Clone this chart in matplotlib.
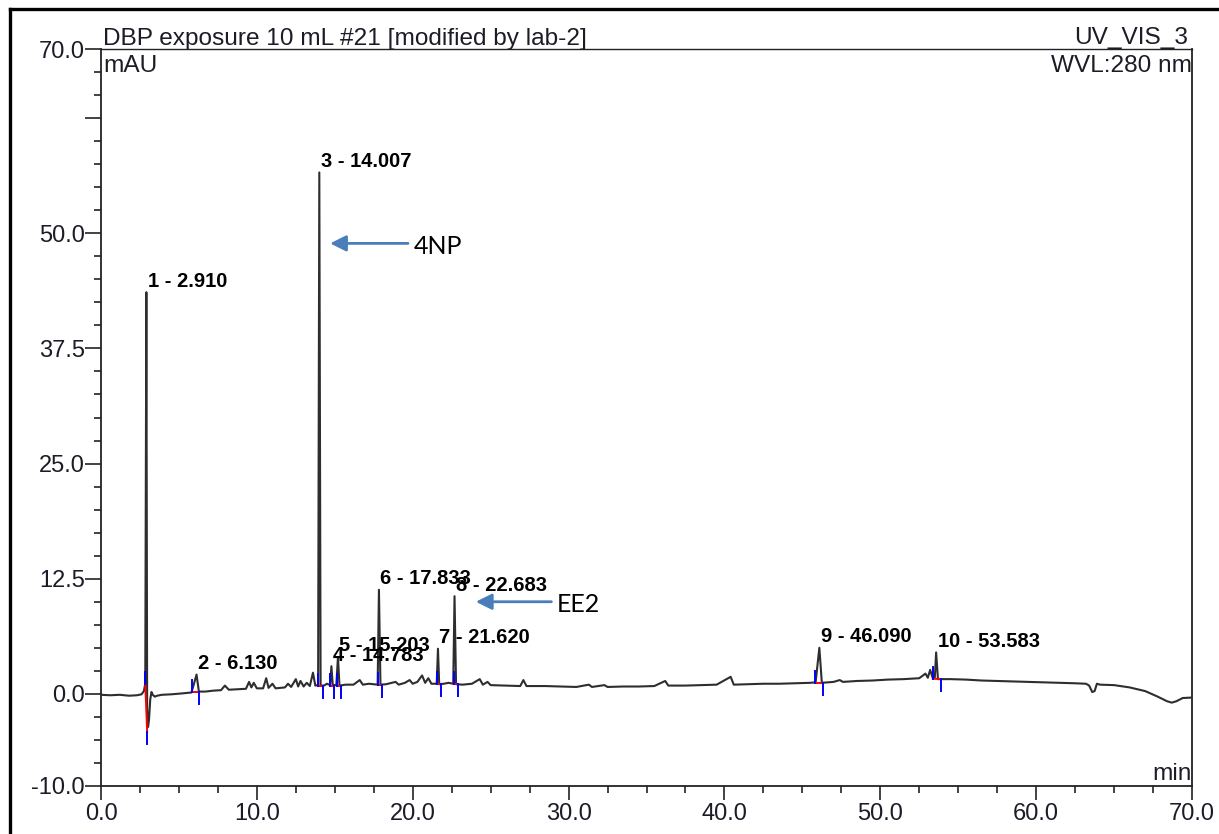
import matplotlib
matplotlib.use("Agg")
import matplotlib.pyplot as plt
import numpy as np
from matplotlib.lines import Line2D
from matplotlib.ticker import MultipleLocator, FixedLocator

plt.rcParams['font.family'] = ['Liberation Sans', 'DejaVu Sans']

# detector trace (min, mAU) without the labelled peak apexes
trace_t = [0.0, 0.6, 1.2, 1.8, 2.3, 2.6, 2.75, 2.84,
           2.96, 3.02, 3.08, 3.16, 3.24, 3.32, 3.45, 3.6, 3.9, 4.5, 5.2, 5.8, 5.95,
           6.28, 6.7, 7.2, 7.7, 7.95, 8.2, 8.8, 9.3, 9.5, 9.65, 9.8, 10.0, 10.4, 10.6,
           10.75, 11.0, 11.2, 11.8, 12.0, 12.2, 12.5, 12.65, 12.8, 13.0, 13.2, 13.4,
           13.6, 13.75, 13.93,
           14.09, 14.3, 14.5, 14.7,
           14.87, 15.1,
           15.3, 15.7, 16.2, 16.6, 16.8, 17.2, 17.75,
           17.93, 18.3, 18.9, 19.1, 19.5, 19.8, 20.0, 20.3, 20.6, 20.8, 21.0, 21.2, 21.54,
           21.7, 22.0, 22.3, 22.6,
           22.78, 23.2, 23.8, 24.3, 24.5, 24.8, 25.0, 26.0, 26.9, 27.1, 27.3, 28.5,
           29.5, 30.5, 31.3, 31.5, 32.3, 32.5, 33.5, 34.5, 35.5, 36.2, 36.4, 37.5,
           38.5, 39.5, 40.4, 40.6, 41.5, 42.5, 43.5, 44.5, 45.5, 45.85,
           46.25, 47.0, 47.4, 47.6, 48.5, 49.5, 50.5, 51.5, 52.5, 52.9, 53.05, 53.2,
           53.35, 53.5,
           53.7, 54.5, 55.5, 56.5, 57.5, 58.5, 59.5, 60.5, 61.5, 62.5, 63.2, 63.4,
           63.6, 63.75, 63.9, 64.1, 65.0, 66.0, 67.0, 67.8, 68.4, 68.7, 69.0, 69.4, 70.0]
trace_y = [-0.10, -0.15, -0.10, -0.20, -0.15, -0.05, 0.3, 1.1,
           -1.5, -3.6, -2.8, -0.6, 0.2, -0.1, -0.3, -0.2, -0.1, -0.05, 0.05, 0.15, 1.0,
           0.25, 0.25, 0.35, 0.4, 0.9, 0.45, 0.5, 0.55, 1.3, 0.7, 1.2, 0.6, 0.6, 1.7,
           0.65, 1.1, 0.6, 0.7, 1.1, 0.75, 1.6, 0.8, 1.4, 0.8, 1.2, 0.85,
           2.3, 0.9, 0.95,
           0.9, 0.9, 1.1, 0.95,
           0.95, 0.95,
           0.9, 1.0, 1.0, 1.5, 1.0, 1.1, 1.0,
           1.0, 1.05, 1.3, 1.0, 1.2, 1.5, 1.1, 1.3, 2.0, 1.2, 1.7, 1.1, 1.1,
           1.05, 1.1, 1.2, 1.1,
           1.05, 1.0, 1.1, 1.6, 1.0, 1.3, 0.95, 0.9, 0.85, 1.5, 0.85, 0.85,
           0.8, 0.75, 1.0, 0.75, 0.95, 0.75, 0.8, 0.8, 0.85, 1.4, 0.9, 0.9,
           0.95, 1.0, 1.85, 1.0, 1.05, 1.1, 1.1, 1.15, 1.2, 1.25,
           1.2, 1.3, 1.5, 1.3, 1.4, 1.45, 1.55, 1.6, 1.7, 2.2, 1.75, 2.6,
           1.8, 1.8,
           1.6, 1.6, 1.55, 1.45, 1.4, 1.35, 1.3, 1.25, 1.2, 1.15, 1.1, 0.9,
           0.2, 0.3, 1.1, 1.0, 0.95, 0.7, 0.3, -0.3, -0.8, -0.95, -0.8, -0.45, -0.4]

# labelled peaks
peak_ids = [1, 2, 3, 4, 5, 6, 7, 8, 9, 10]
peak_times = [2.910, 6.130, 14.007, 14.783, 15.203, 17.833, 21.620, 22.683, 46.090, 53.583]
peak_heights = [43.6, 2.1, 56.6, 3.0, 4.0, 11.3, 4.9, 10.6, 5.0, 4.5]

# integration limits and baseline levels
int_start = [2.84, 5.84, 13.90, 14.72, 15.12, 17.76, 21.55, 22.62, 45.82, 53.37]
int_end = [2.96, 6.29, 14.25, 14.95, 15.40, 18.02, 21.80, 22.90, 46.30, 53.90]
base_start = [1.1, 0.2, 0.9, 0.9, 0.9, 1.0, 1.1, 1.1, 1.2, 1.65]
base_end = [-4.1, 0.2, 0.9, 0.9, 0.9, 1.0, 1.05, 1.05, 1.2, 1.6]

# compound callouts: (name, arrow tip, arrow tail)
callouts = [("4NP", (14.7, 48.9), (19.7, 48.9)),
            ("EE2", (24.05, 10.0), (28.9, 10.0))]

t = np.array(trace_t + peak_times)
y = np.array(trace_y + peak_heights)
order = np.argsort(t)
t, y = t[order], y[order]

W, H = 1219, 834
fig = plt.figure(figsize=(W / 100, H / 100), dpi=100)
ax = fig.add_axes([101 / W, 1 - 786 / H, (1192 - 101) / W, (786 - 49) / H])

txt_color = '#1c1c28'
ax.plot(t, y, color='#2e2e2e', lw=1.5, zorder=3)

tick_len = 1.3
for s, e, bs, be in zip(int_start, int_end, base_start, base_end):
    ax.plot([s, e], [bs, be], color='red', lw=1.4, zorder=4)
    ax.plot([s, s], [bs, bs + tick_len], color='blue', lw=1.4, zorder=5)
    ax.plot([e, e], [be, be - tick_len], color='blue', lw=1.4, zorder=5)

for pid, pt, ph in zip(peak_ids, peak_times, peak_heights):
    ax.annotate(f"{pid} - {pt:.3f}", xy=(pt, ph), xytext=(1, 4),
                textcoords='offset points', ha='left', va='baseline',
                fontsize=14.5, fontweight='bold', color='black', zorder=6)

for name, tip, tail in callouts:
    ax.annotate('', xy=tip, xytext=tail,
                arrowprops=dict(arrowstyle='-|>', color='#4a7ebb', lw=2,
                                mutation_scale=24, shrinkA=0, shrinkB=0))
    ax.annotate(name, xy=tail, xytext=(4, -2), textcoords='offset points',
                ha='left', va='center', fontsize=18, family=['Lato', 'DejaVu Sans'],
                color='black')

ax.set_xlim(0, 70)
ax.set_ylim(-10, 70)

ax.xaxis.set_major_locator(MultipleLocator(10))
ax.xaxis.set_minor_locator(MultipleLocator(2.5))
ax.set_xticklabels([f"{v:.1f}" for v in ax.get_xticks()])

y_major = [-10, 0, 12.5, 25, 37.5, 50, 62.5, 70]
ax.yaxis.set_major_locator(FixedLocator(y_major))
ax.set_yticklabels(['' if v == 62.5 else f"{v:.1f}" for v in y_major])
ax.yaxis.set_minor_locator(MultipleLocator(2.5))

ax.tick_params(axis='both', which='both', direction='out', colors='#222222',
               labelcolor=txt_color, labelsize=17, width=1.2)
ax.tick_params(axis='x', which='major', length=10, pad=2)
ax.tick_params(axis='x', which='minor', length=5)
ax.tick_params(axis='y', which='major', length=11.5, pad=0)
ax.tick_params(axis='y', which='minor', length=4.7)

for sp in ax.spines.values():
    sp.set_color('#222222')
    sp.set_linewidth(1.3)
ax.spines['top'].set_linewidth(1.0)

fig.text(103 / W, 1 - 45 / H, "DBP exposure 10 mL #21 [modified by lab-2]",
         ha='left', va='baseline', fontsize=17.6, color=txt_color)
fig.text(1188 / W, 1 - 44 / H, "UV_VIS_3", ha='right', va='baseline',
         fontsize=17.6, color=txt_color)
fig.text(103 / W, 1 - 72 / H, "mAU", ha='left', va='baseline',
         fontsize=17.6, color=txt_color)
fig.text(1192 / W, 1 - 72 / H, "WVL:280 nm", ha='right', va='baseline',
         fontsize=17.6, color=txt_color)
fig.text(1192 / W, 1 - 780 / H, "min", ha='right', va='baseline',
         fontsize=17.6, color=txt_color)

# page frame
fig.add_artist(Line2D([10 / W, 10 / W], [0, 1 - 9 / H], color='black', lw=2.4,
                      transform=fig.transFigure))
fig.add_artist(Line2D([10 / W, 1], [1 - 9 / H, 1 - 9 / H], color='black', lw=2.4,
                      transform=fig.transFigure))

fig.savefig('out.png', dpi=100)
